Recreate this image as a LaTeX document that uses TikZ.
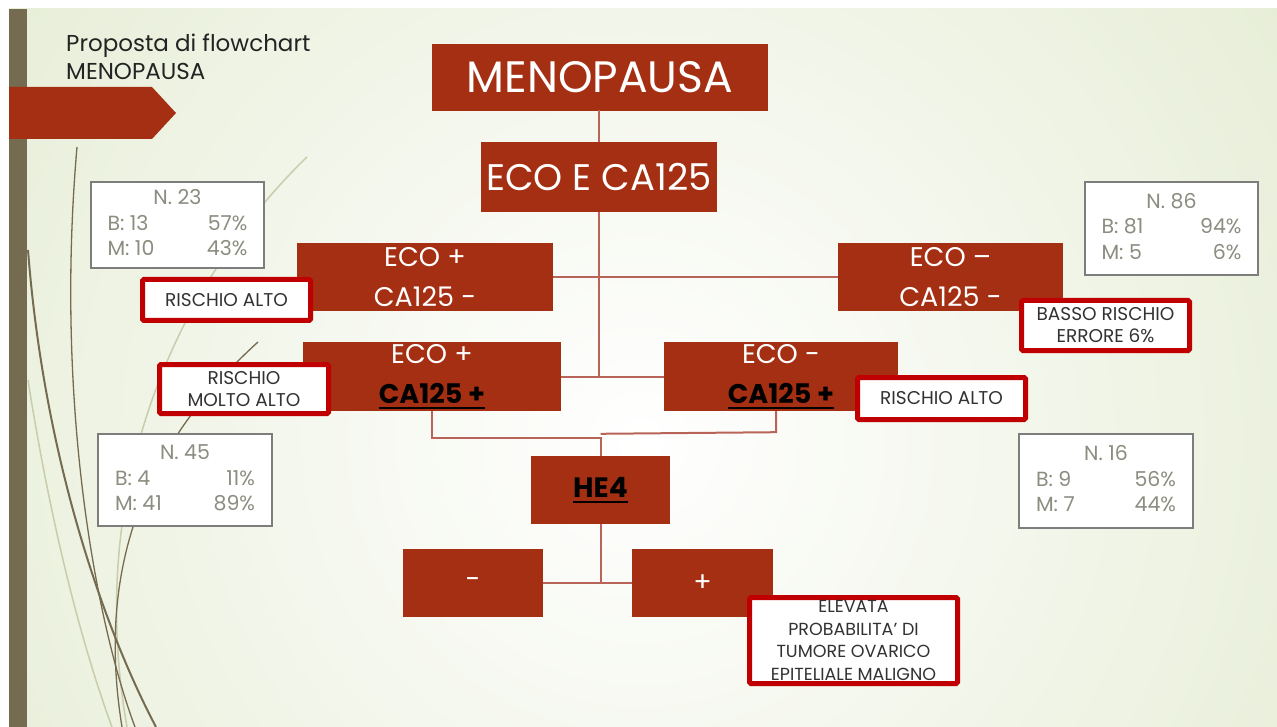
\documentclass[tikz,border=0pt]{standalone}
\usepackage{fontspec}
\setmainfont{Poppins}
\usetikzlibrary{calc}
\definecolor{boxred}{RGB}{165,47,18}
\definecolor{riskred}{RGB}{192,0,0}
\definecolor{connred}{RGB}{184,100,88}
\definecolor{bandolive}{RGB}{117,107,80}
\definecolor{bggreen}{RGB}{212,224,184}
\definecolor{statgray}{RGB}{140,140,128}
\definecolor{statline}{RGB}{125,125,125}
\definecolor{risktext}{RGB}{50,50,50}
\definecolor{titletext}{RGB}{35,35,35}
\definecolor{faintline}{RGB}{200,205,172}
\newcommand\myul[1]{\setbox0\hbox{#1}\rlap{\rule[-5pt]{\wd0}{1.8pt}}\box0}
\newcommand\statrows[5]{\begin{tabular*}{140pt}{@{}l@{\extracolsep{\fill}}r@{}}\multicolumn{2}{c}{#1}\\#2&#3\\#4&#5\end{tabular*}}
\begin{document}
\begin{tikzpicture}[x=1pt,y=-1pt,
  redbox/.style={fill=boxred, draw=none, inner sep=0pt, text=white, align=center},
  conn/.style={draw=connred, line width=2pt},
  riskbox/.style={draw=riskred, line width=5pt, fill=white, rounded corners=1.5pt, inner sep=0pt, text=risktext, align=center, font=\fontsize{18.5}{22}\selectfont},
  statbox/.style={draw=statline, line width=1.2pt, fill=white, inner sep=0pt, text=statgray, font=\fontsize{20.5}{25.5}\selectfont},
  deco/.style={draw=bandolive, line width=2pt},
  decothin/.style={draw=bandolive, line width=1.3pt},
  decofaint/.style={draw=faintline, line width=1.5pt}]
\useasboundingbox (0,0) rectangle (1277,727);
% background
\fill[white] (0,0) rectangle (1277,727);
\begin{scope}
  \clip (9,9) rectangle (1277,727);
  \fill[bggreen] (9,9) rectangle (1277,727);
  \shade[inner color=white, outer color=bggreen] (640,440) circle (1400);
\end{scope}
\fill[bandolive] (9,9) rectangle (27,727);
% decorative curves
\draw[decofaint] (307,157) .. controls (200,260) and (80,460) .. (127,727);
\draw[decofaint] (28,380) .. controls (50,520) and (80,640) .. (112,727);
\draw[decothin] (77,147) .. controls (55,400) and (95,620) .. (135,727);
\draw[deco] (28,250) .. controls (45,470) and (110,640) .. (156,727);
\draw[decothin] (258,342) .. controls (150,440) and (95,560) .. (122,727);
% left arrow
\fill[boxred] (9,87) -- (152,87) -- (176,113) -- (152,139) -- (9,139) -- cycle;
% title
\node[anchor=base west, inner sep=0pt, text=titletext, font=\fontsize{23}{28}\selectfont] (t1) at (66,52) {Proposta di flowchart};
\node[anchor=base west, inner sep=0pt, text=titletext, font=\fontsize{23}{28}\selectfont] (t2) at (66,80) {MENOPAUSA};
% main boxes
\node[redbox, minimum width=336pt, minimum height=67pt, font=\fontsize{44}{50}\selectfont] (menop) at (600,77.5) {MENOPAUSA};
\node[redbox, minimum width=236pt, minimum height=70pt, font=\fontsize{37}{42}\selectfont] (ecoca) at (599,177) {ECO E CA125};
\node[redbox, minimum width=256pt, minimum height=68pt, font=\fontsize{27}{40}\selectfont] (epcm) at (425,277) {ECO +\\CA125 -};
\node[redbox, minimum width=225pt, minimum height=68pt, font=\fontsize{27}{40}\selectfont] (emcm) at (950.5,277) {ECO --\\CA125 -};
\node[redbox, minimum width=258pt, minimum height=69pt, font=\fontsize{27}{40}\selectfont] (epcp) at (432,376.5) {ECO +\\\textcolor{black}{\textbf{\myul{CA125 +}}}};
\node[redbox, minimum width=234pt, minimum height=69pt, font=\fontsize{27}{40}\selectfont] (emcp) at (781,376.5) {ECO -\\\textcolor{black}{\textbf{\myul{CA125 +}}}};
\node[redbox, minimum width=139pt, minimum height=68pt, font=\fontsize{28}{32}\selectfont] (he4) at (600.5,490) {\textcolor{black}{\textbf{\myul{HE4}}}};
\node[redbox, minimum width=140pt, minimum height=68pt, font=\fontsize{27}{30}\selectfont] (neg) at (473,583) {-};
\node[redbox, minimum width=141pt, minimum height=68pt, font=\fontsize{27}{30}\selectfont] (pos) at (702.5,583) {+};
% connectors
\draw[conn] (menop.south) -- (ecoca.south |- menop.south) -- (ecoca.north);
\draw[conn] (ecoca.south) -- (ecoca.south |- epcp.east);
\draw[conn] (epcm.east) -- (emcm.west);
\draw[conn] (epcp.east) -- (emcp.west);
\coordinate (j1) at ($(he4.north)+(0,-18)$);
\draw[conn] (epcp.south) |- (j1) -- (he4.north);
\draw[conn] ($(emcp.south)+(-5,0)$) -- ++(0,21) -- ($(he4.north)+(0,-22)$);
\draw[conn] (he4.south) -- (he4.south |- neg.east);
\draw[conn] (neg.east) -- (pos.west);
% risk boxes
\node[riskbox, minimum width=168pt, minimum height=41pt] (r1) at (226.5,300) {RISCHIO ALTO};
\node[riskbox, minimum width=169pt, minimum height=49pt] (r2) at (244,389) {RISCHIO\\MOLTO ALTO};
\node[riskbox, minimum width=168pt, minimum height=50pt] (r3) at (1105.5,325.5) {BASSO RISCHIO\\ERRORE 6\%};
\node[riskbox, minimum width=168pt, minimum height=42pt] (r4) at (941.5,398.5) {RISCHIO ALTO};
\node[riskbox, minimum width=208pt, minimum height=86pt, font=\fontsize{17.5}{22.5}\selectfont] (r5) at (853.5,640.5) {ELEVATA\\PROBABILITA' DI\\TUMORE OVARICO\\EPITELIALE MALIGNO};
% stat boxes
\node[statbox, minimum width=173pt, minimum height=86pt] (s23) at (177.5,225) {\statrows{N. 23}{B: 13}{57\%}{M: 10}{43\%}};
\node[statbox, minimum width=173pt, minimum height=93pt] (s86) at (1171.5,228.5) {\statrows{N. 86}{B: 81}{94\%}{M: 5}{6\%}};
\node[statbox, minimum width=174pt, minimum height=92pt] (s45) at (185,480) {\statrows{N. 45}{B: 4}{11\%}{M: 41}{89\%}};
\node[statbox, minimum width=174pt, minimum height=94pt] (s16) at (1106,481) {\statrows{N. 16}{B: 9}{56\%}{M: 7}{44\%}};
\end{tikzpicture}
\end{document}
